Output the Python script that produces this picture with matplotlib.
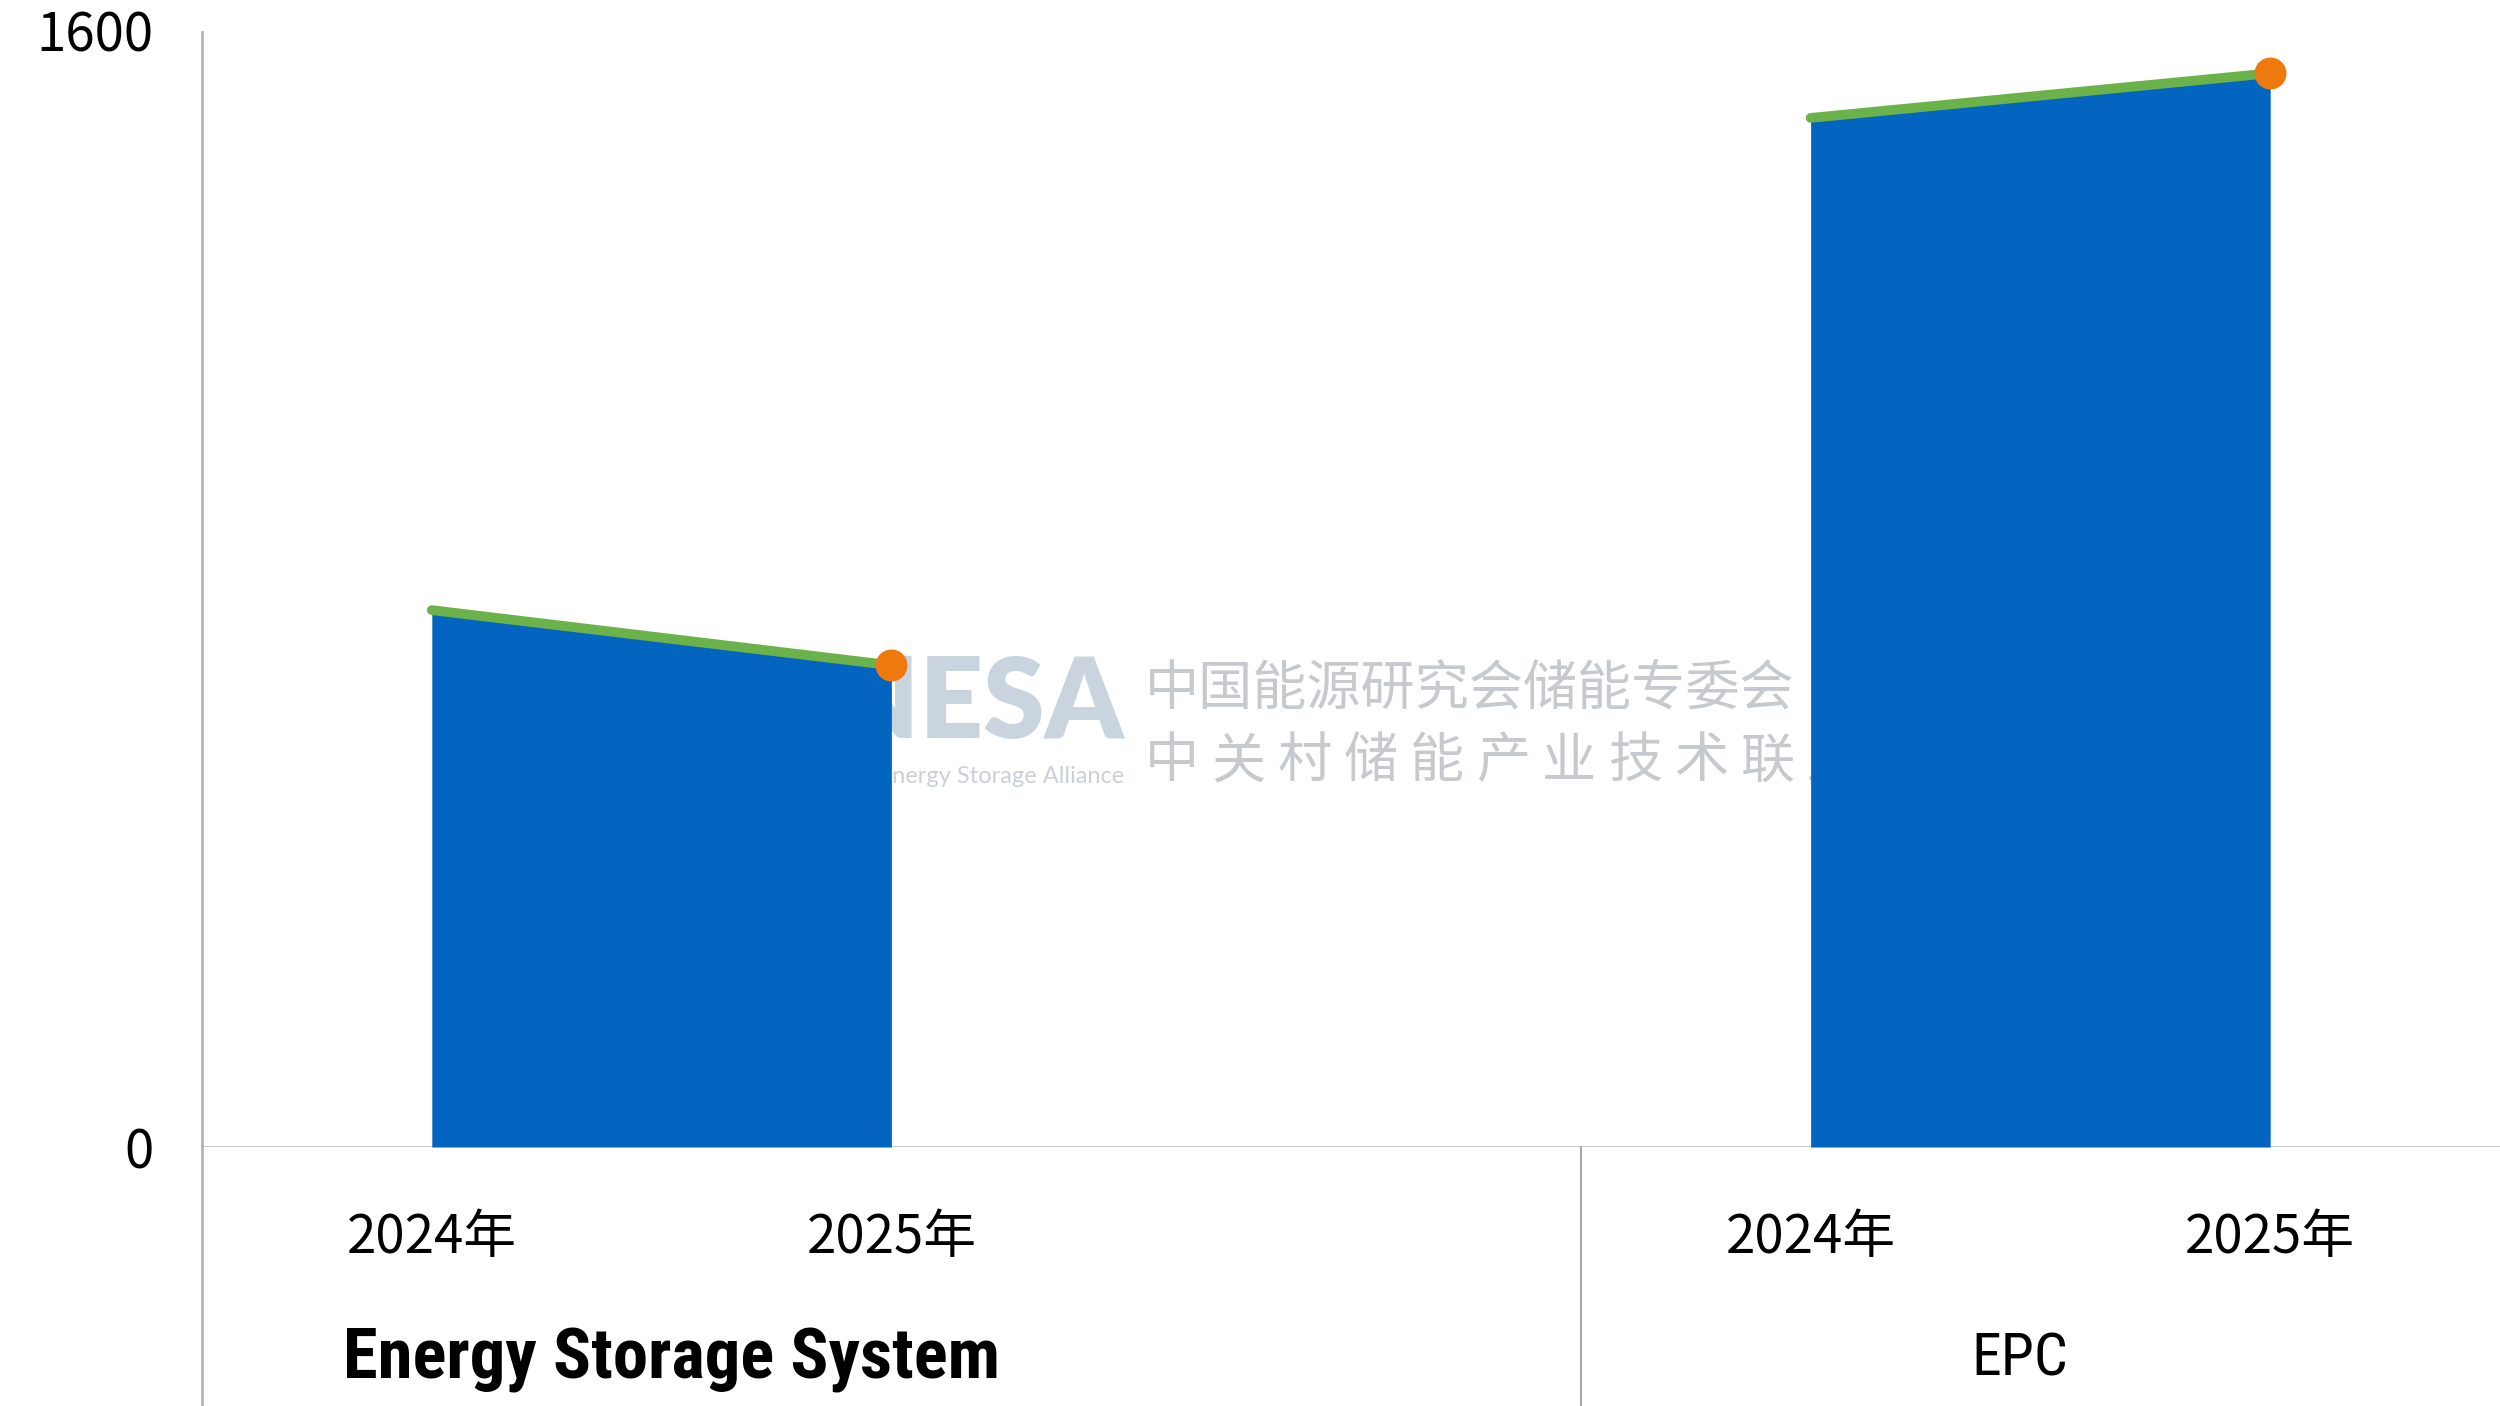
import matplotlib
matplotlib.use("Agg")
import matplotlib.pyplot as plt
from matplotlib import font_manager as fm
from matplotlib.lines import Line2D

# ---------------- data ----------------
groups = ["Energy Storage System", "EPC"]
years = ["2024年", "2025年"]
ess_values = [769, 690]
epc_values = [1474, 1538]
y_ticks = [0, 1600]
y_tick_labels = ["0", "1600"]
watermark_lines = ["中国能源研究会储能专委会", "中关村储能产业技术联盟"]

# ---------------- fonts ----------------
available = {f.name for f in fm.fontManager.ttflist}
narrow = "Lato"
for cand in ["Liberation Sans Narrow", "Roboto Condensed", "Open Sans Condensed", "DejaVu Sans Condensed"]:
    if cand in available:
        narrow = cand
        break
cjk = "Noto Sans CJK SC"
plt.rcParams["font.family"] = [cjk, "DejaVu Sans"]

BLUE = "#0465C1"
GREEN = "#6CB24A"
ORANGE = "#EE7A0E"
AXIS_GRAY = "#BDBDBD"

fig = plt.figure(figsize=(25, 14.06), dpi=100)
ax = fig.add_axes([0.0808, 0.1842, 0.9192, 0.7945])
ax.set_xlim(-0.5, 4.5)
ax.set_ylim(0, 1600)

positions = [[0, 1], [3, 4]]
series = [ess_values, epc_values]

for xs, vals in zip(positions, series):
    ax.fill_between(xs, [0, 0], vals, color=BLUE, linewidth=0, zorder=2)
    ax.plot(xs, vals, color=GREEN, lw=7, solid_capstyle="round", zorder=3)
    ax.plot(xs[-1], vals[-1], "o", color=ORANGE, ms=22, mec=ORANGE, zorder=4)

# watermark (behind the areas)
wm_kw = dict(zorder=1, clip_on=False)
ax.text(1.506, 633, "CNESA", ha="right", va="center", fontsize=80, fontweight="heavy",
        color="#C9D4DF", family=["Lato"], **wm_kw)
ax.text(1.506, 531, "China Energy Storage Alliance", ha="right", va="center", fontsize=17,
        color="#C9D0D8", family=["Lato"], **wm_kw)
ax.text(1.552, 656, watermark_lines[0], ha="left", va="center", fontsize=39,
        color="#C6CACE", **wm_kw)
step = 0.144
for i, ch in enumerate(watermark_lines[1]):
    ax.text(1.552 + i * step, 552, ch, ha="left", va="center", fontsize=39,
            color="#C6CACE", **wm_kw)

# axes styling
for s in ax.spines.values():
    s.set_visible(False)
ax.axhline(0, color=AXIS_GRAY, lw=2, zorder=1.5)

fig_bottom_axes = -0.1842 / 0.7945
ax.add_line(Line2D([-0.5, -0.5], [fig_bottom_axes, 0.998], transform=ax.get_xaxis_transform(),
                   color="#B4B4B4", lw=2, clip_on=False))
ax.add_line(Line2D([2.5, 2.5], [fig_bottom_axes, 0], transform=ax.get_xaxis_transform(),
                   color="#8C8C8C", lw=1.1, clip_on=False))

ax.set_yticks(y_ticks)
ax.set_yticklabels(y_tick_labels, fontsize=38)
ax.tick_params(axis="y", length=0, pad=35)

xt = [p for pair in positions for p in pair]
ax.set_xticks(xt)
ax.set_xticklabels(years * len(groups), fontsize=38)
ax.tick_params(axis="x", length=0, pad=45)

# group labels
t1 = ax.text(sum(positions[0]) / 2 + 0.022, -0.19, groups[0], transform=ax.get_xaxis_transform(),
             ha="center", va="center", fontsize=50, fontweight="bold", family=[narrow, cjk])
t2 = ax.text(sum(positions[1]) / 2 - 0.045, -0.19, groups[1], transform=ax.get_xaxis_transform(),
             ha="center", va="center", fontsize=43, family=[narrow, cjk])

# fit the first group label to the reference width (~658 px)
fig.canvas.draw()
w = t1.get_window_extent().width
t1.set_fontsize(50 * 658 / w)

fig.savefig("out.png", dpi=100, facecolor="white")
